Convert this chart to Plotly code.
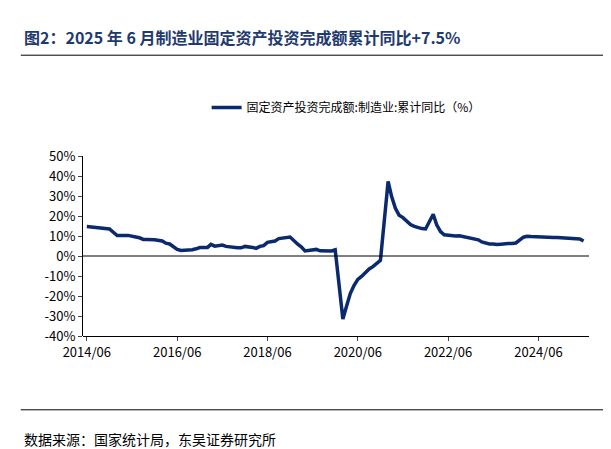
import plotly.graph_objects as go

years_vals = {
 2014: [None]*5 + [14.8,14.6,14.4,14.0,13.6,13.4,13.5],
 2015: [None,10.2,10.4,10.3,10.3,10.1,9.5,9.1,8.3,8.3,8.4,8.1],
 2016: [None,7.5,6.4,6.0,4.6,3.3,2.8,2.8,3.1,3.1,3.6,4.2],
 2017: [None,4.3,5.8,4.9,5.1,5.5,4.8,4.5,4.2,4.1,4.1,4.8],
 2018: [None,4.3,3.8,4.8,5.2,6.8,7.3,7.5,8.7,9.1,9.5,9.5],
 2019: [None,5.9,4.6,2.5,2.7,3.0,3.3,2.6,2.5,2.6,2.5,3.1],
 2020: [None,-31.5,-25.2,-18.8,-14.8,-11.7,-10.2,-8.1,-6.5,-5.3,-3.5,-2.2],
 2021: [None,37.3,29.8,23.8,20.4,19.2,17.3,15.7,14.8,14.2,13.7,13.5],
 2022: [None,20.9,15.6,12.2,10.6,10.4,9.9,10.0,10.1,9.7,9.3,9.1],
 2023: [None,8.1,7.0,6.4,6.0,6.0,5.7,5.9,6.2,6.2,6.3,6.5],
 2024: [None,9.4,9.9,9.7,9.6,9.5,9.3,9.1,9.2,9.3,9.3,9.2],
 2025: [None,9.0,9.1,8.8,8.5,7.5],
}
dates, values = [], []
for y, vals in years_vals.items():
    for m, v in enumerate(vals, start=1):
        if v is not None:
            dates.append(f"{y}-{m:02d}-01"); values.append(v)

tick_dates = [f"{y}-06-01" for y in range(2014, 2025, 2)]
tick_labels = [f"{y}/06" for y in range(2014, 2025, 2)]
y_ticks = list(range(-40, 51, 10))

navy = "#0b2a6e"
fig = go.Figure(go.Scatter(x=dates, y=values, mode="lines",
    line=dict(color=navy, width=3.5), name="固定资产投资完成额:制造业:累计同比（%）"))

# plot area: y 148..328 (height 180)
fig.update_layout(
    width=611, height=449, paper_bgcolor="white", plot_bgcolor="white",
    margin=dict(l=75, r=30, t=148, b=121),
    font=dict(family="Noto Sans CJK SC", size=13, color="black"),
    showlegend=True,
    legend=dict(orientation="h", x=0.52, xanchor="center", y=1.27, yanchor="middle",
                font=dict(size=12)),
    xaxis=dict(type="date", range=["2014-05-01", "2025-07-15"], tickvals=tick_dates,
               ticktext=tick_labels, showgrid=False, showline=True, linecolor="black",
               ticks="outside", ticklen=4, zeroline=False, anchor="free", position=0),
    yaxis=dict(range=[-40, 50], tickvals=y_ticks, ticktext=[f"{v}%" for v in y_ticks],
               showgrid=False, showline=True, linecolor="black", ticks="outside",
               ticklen=4, zeroline=False),
    shapes=[
        dict(type="line", xref="paper", yref="y", x0=0, x1=1, y0=0, y1=0,
             line=dict(color="black", width=1)),
        dict(type="line", xref="paper", yref="paper", x0=-0.123, x1=1.06, y0=1.56, y1=1.56,
             line=dict(color="black", width=1)),
        dict(type="line", xref="paper", yref="paper", x0=-0.123, x1=1.06, y0=-0.41, y1=-0.41,
             line=dict(color="black", width=1)),
    ],
    annotations=[
        dict(text="<b>图2：2025 年 6 月制造业固定资产投资完成额累计同比+7.5%</b>",
             xref="paper", yref="paper", x=-0.12, y=1.66, xanchor="left", yanchor="middle",
             showarrow=False, font=dict(size=16, color="#1f3a6e")),
        dict(text="数据来源：国家统计局，东吴证券研究所", xref="paper", yref="paper",
             x=-0.12, y=-0.57, xanchor="left", yanchor="middle", showarrow=False,
             font=dict(size=14)),
    ],
)
fig.write_html("out.html")
